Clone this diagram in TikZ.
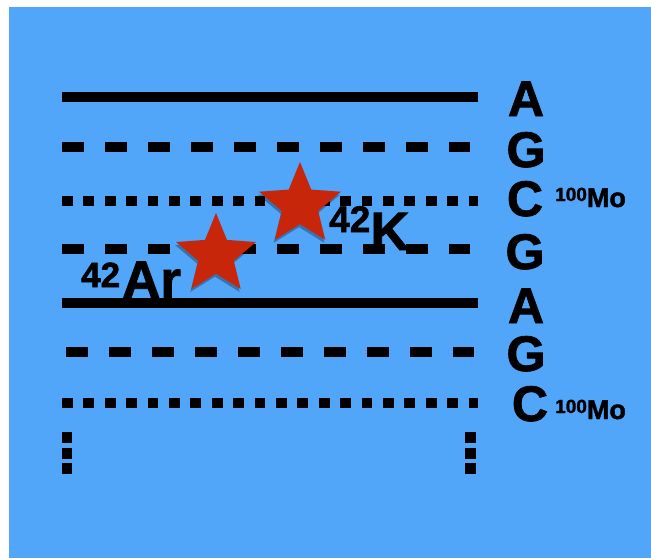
\documentclass[tikz,border=0pt]{standalone}
\usepackage{fontspec}
\setmainfont{Liberation Sans}[BoldFont={Liberation Sans Bold}]
\newfontfamily\heavy{Liberation Sans Bold}[FakeBold=1.6]
\usetikzlibrary{shapes.geometric,shadows}
\definecolor{bgblue}{RGB}{81,166,250}
\definecolor{starred}{RGB}{200,38,10}
\begin{document}
\begin{tikzpicture}[x=1pt,y=-1pt,
  strand/.style={line width=10.5pt,line cap=butt},
  dashstrand/.style={strand,dash pattern=on 21.5pt off 21.5pt},
  dotstrand/.style={strand,dash pattern=on 10.7pt off 10.7pt},
  vdotstrand/.style={line width=10.5pt,line cap=butt,dash pattern=on 11pt off 4.5pt},
  base/.style={font=\heavy\fontsize{50}{50}\selectfont,anchor=base,inner sep=0pt},
  molabel/.style={anchor=base west,inner sep=0pt,font=\heavy},
  isolabel/.style={anchor=base west,inner sep=0pt,font=\heavy},
  redstar/.style={star,star points=5,star point ratio=2.25,inner sep=0pt,
    fill=starred,draw=none,
    drop shadow={shadow xshift=-1pt,shadow yshift=-3pt,opacity=0.3,fill=black}}
]
\useasboundingbox (0,0) rectangle (651,558);
\fill[bgblue] (9,7) rectangle (651,558);
% strands
\coordinate (s1a) at (62,97);  \coordinate (s1b) at (478,97);
\coordinate (s2a) at (62,147); \coordinate (s2b) at (470,147);
\coordinate (s3a) at (62,201); \coordinate (s3b) at (478,201);
\coordinate (s4a) at (62,249); \coordinate (s4b) at (470,249);
\coordinate (s5a) at (62,303); \coordinate (s5b) at (478,303);
\coordinate (s6a) at (66,352); \coordinate (s6b) at (474,352);
\coordinate (s7a) at (62,403); \coordinate (s7b) at (478,403);
\coordinate (v1a) at (67,432); \coordinate (v1b) at (67,475);
\coordinate (v2a) at (470.5,432); \coordinate (v2b) at (470.5,475);
\draw[strand] (s1a) -- (s1b);
\draw[dashstrand] (s2a) -- (s2b);
\draw[dotstrand] (s3a) -- (s3b);
\draw[dashstrand] (s4a) -- (s4b);
\draw[strand] (s5a) -- (s5b);
\draw[dashstrand] (s6a) -- (s6b);
\draw[dotstrand] (s7a) -- (s7b);
\draw[vdotstrand] (v1a) -- (v1b);
\draw[vdotstrand] (v2a) -- (v2b);
% stars
\node[redstar,minimum size=86pt] (k) at (300,205) {};
\node[redstar,minimum size=84pt] (ar) at (216,255) {};
% base letters
\node[base] (b1) at (526,116) {A};
\node[base] (b2) at (526,167) {G};
\node[base] (b3) at (525,216) {C};
\node[base] (b4) at (525,269) {G};
\node[base] (b5) at (526,323) {A};
\node[base] (b6) at (526,371) {G};
\node[base] (b7) at (530,421) {C};
% Mo labels
\node[molabel] (mo1) at (555,207) {\raisebox{6pt}{\fontsize{19}{19}\selectfont 100}\fontsize{27}{27}\selectfont Mo};
\node[molabel] (mo2) at (555,419) {\raisebox{6pt}{\fontsize{19}{19}\selectfont 100}\fontsize{27}{27}\selectfont Mo};
% isotope labels
\node[isolabel] (arlab) at (81,298) {\raisebox{11pt}{\fontsize{35}{35}\selectfont 42}\kern2pt\fontsize{53}{53}\selectfont Ar};
\node[isolabel] (klab) at (329,250) {\raisebox{18pt}{\fontsize{37}{37}\selectfont 42}\fontsize{54}{54}\selectfont K};
\end{tikzpicture}
\end{document}
